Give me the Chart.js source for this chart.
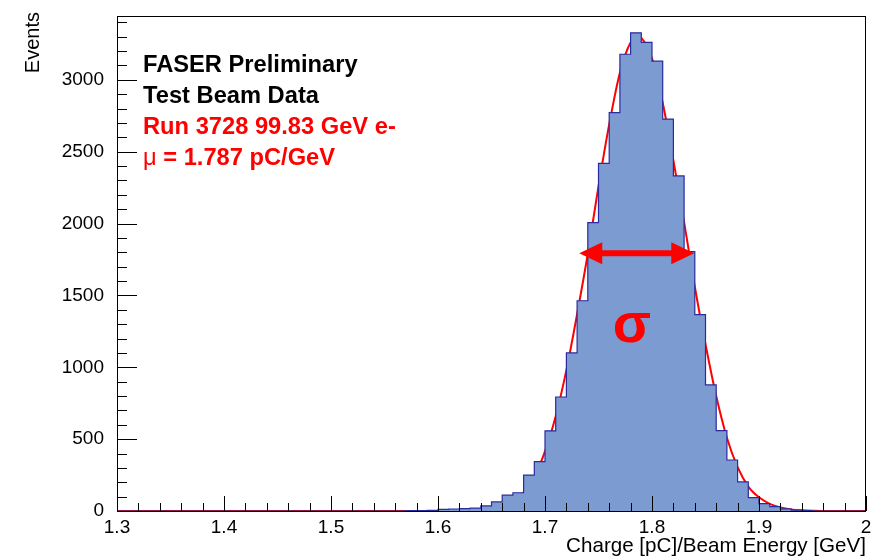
<!DOCTYPE html>
<html>
<head>
<meta charset="utf-8">
<script src="https://cdn.jsdelivr.net/npm/chart.js@4.4.1/dist/chart.umd.min.js"></script>
<style>
  body { margin: 0; background: #fff; }
  canvas { display: block; }
</style>
</head>
<body>
<canvas id="chargeChart" width="875" height="558"></canvas>
<script>
// Histogram: 0.01 wide bins, first filled bin starts at 1.57
const binStart = 1.57;
const binWidth = 0.01;
const binCounts = [
    2, 3, 5, 12, 14, 16, 20, 35, 63, 110,
    127, 250, 343, 558, 793, 1100, 1463, 2007, 2418, 2772,
    3178, 3327, 3260, 3130, 2727, 2331, 1805, 1366, 877, 559,
    355, 202, 93, 52, 30, 15, 6, 2
];

// Fit curve sampled along the axis
const fitX = [1.3, 1.55, 1.60, 1.61, 1.62, 1.63, 1.64, 1.65, 1.66, 1.67, 1.68, 1.69, 1.70,
    1.71, 1.72, 1.73, 1.74, 1.75, 1.76, 1.77, 1.78, 1.787, 1.79, 1.80, 1.81, 1.82,
    1.83, 1.84, 1.85, 1.86, 1.87, 1.88, 1.89, 1.90, 1.91, 1.92, 1.93, 1.94, 1.95, 1.97, 2.0];
const fitY = [0, 0, 0.5, 1, 2, 4, 9, 18, 36, 70, 130, 240, 415,
    660, 980, 1370, 1790, 2260, 2690, 3050, 3260, 3300, 3292, 3150, 2840, 2440,
    2010, 1560, 1160, 800, 510, 305, 170, 95, 50, 25, 11, 5, 2, 0, 0];

const xMajorTicks = [1.3, 1.4, 1.5, 1.6, 1.7, 1.8, 1.9, 2.0];
const yMajorTicks = [0, 500, 1000, 1500, 2000, 2500, 3000];

const fontFamily = '"Liberation Sans", Arial, Helvetica, sans-serif';

function isMajor(v, list) {
    return list.some(m => Math.abs(m - v) < 1e-6);
}

const histPoints = [{ x: 1.3, y: 0 }];
binCounts.forEach((n, i) => {
    histPoints.push({ x: +(binStart + i * binWidth).toFixed(2), y: n });
});
histPoints.push({ x: +(binStart + binCounts.length * binWidth).toFixed(2), y: 0 });
histPoints.push({ x: 2.0, y: 0 });

const fitPoints = fitX.map((x, i) => ({ x: x, y: fitY[i] }));

// fixed axis boxes so the frame sits where ROOT puts it
function fixBox(w, h) {
    return scale => {
        if (w) scale.width = w;
        if (h) scale.height = h;
        scale.paddingTop = 0;
        scale.paddingBottom = 0;
        scale.paddingLeft = 0;
        scale.paddingRight = 0;
    };
}

// ROOT-style frame with inward ticks
const frameTicks = {
    id: 'frameTicks',
    afterDatasetsDraw(chart) {
        const { ctx, chartArea: a, scales: { x, y } } = chart;
        ctx.save();
        ctx.strokeStyle = '#000';
        ctx.lineWidth = 1;
        ctx.beginPath();
        x.ticks.forEach(t => {
            const px = Math.round(x.getPixelForValue(t.value)) + 0.5;
            const len = isMajor(t.value, xMajorTicks) ? 15 : 8;
            ctx.moveTo(px, a.bottom);
            ctx.lineTo(px, a.bottom - len);
        });
        y.ticks.forEach(t => {
            const py = Math.round(y.getPixelForValue(t.value)) + 0.5;
            const len = isMajor(t.value, yMajorTicks) ? 20 : 10;
            ctx.moveTo(a.left, py);
            ctx.lineTo(a.left + len, py);
        });
        ctx.stroke();
        ctx.strokeRect(a.left + 0.5, a.top + 0.5, a.right - a.left - 1, a.bottom - a.top);
        ctx.restore();
    }
};

// Labels, sigma arrow and axis titles
const annotations = {
    id: 'annotations',
    afterDraw(chart) {
        const { ctx, chartArea: a, scales: { x, y } } = chart;
        ctx.save();

        ctx.textBaseline = 'alphabetic';
        ctx.textAlign = 'left';
        ctx.font = 'bold 23.7px ' + fontFamily;
        ctx.fillStyle = '#000';
        ctx.fillText('FASER Preliminary', 143, 72);
        ctx.fillText('Test Beam Data', 143, 103);
        ctx.fillStyle = '#ff0000';
        ctx.fillText('Run 3728 99.83 GeV e-', 143, 134);
        ctx.font = '23.7px ' + fontFamily;
        ctx.fillText('\u03bc', 143, 165);
        const muW = ctx.measureText('\u03bc').width;
        ctx.font = 'bold 23.7px ' + fontFamily;
        ctx.fillText(' = 1.787 pC/GeV', 143 + muW, 165);

        // double arrow across the peak width
        const x1 = x.getPixelForValue(1.732);
        const x2 = x.getPixelForValue(1.8395);
        const ya = y.getPixelForValue(1793);
        const head = 23, half = 11;
        ctx.strokeStyle = '#ff0000';
        ctx.lineWidth = 6;
        ctx.beginPath();
        ctx.moveTo(x1 + head - 2, ya);
        ctx.lineTo(x2 - head + 2, ya);
        ctx.stroke();
        ctx.beginPath();
        ctx.moveTo(x1, ya);
        ctx.lineTo(x1 + head, ya - half);
        ctx.lineTo(x1 + head, ya + half);
        ctx.closePath();
        ctx.moveTo(x2, ya);
        ctx.lineTo(x2 - head, ya - half);
        ctx.lineTo(x2 - head, ya + half);
        ctx.closePath();
        ctx.fill();

        ctx.font = 'bold 56px ' + fontFamily;
        ctx.textAlign = 'center';
        ctx.fillText('\u03c3', x.getPixelForValue(1.7813), y.getPixelForValue(1176));

        // axis titles, aligned to the axis ends
        ctx.fillStyle = '#000';
        ctx.font = '20.6px ' + fontFamily;
        ctx.textAlign = 'right';
        ctx.fillText('Charge [pC]/Beam Energy [GeV]', a.right, 552);
        ctx.font = '20px ' + fontFamily;
        ctx.translate(33, a.top - 4);
        ctx.rotate(-Math.PI / 2);
        ctx.textBaseline = 'middle';
        ctx.fillText('Events', 0, 0);

        ctx.restore();
    }
};

Chart.defaults.font.family = fontFamily;
Chart.defaults.font.size = 19;
Chart.defaults.color = '#000';

new Chart(document.getElementById('chargeChart').getContext('2d'), {
    type: 'line',
    data: {
        datasets: [{
            label: 'Events',
            data: histPoints,
            stepped: true,
            fill: 'origin',
            backgroundColor: '#7b9bd1',
            borderColor: '#2b2ba0',
            borderWidth: 1.2,
            pointRadius: 0
        }, {
            label: 'Fit',
            data: fitPoints,
            fill: false,
            borderColor: '#ff0000',
            borderWidth: 2,
            cubicInterpolationMode: 'monotone',
            pointRadius: 0
        }]
    },
    options: {
        responsive: false,
        animation: false,
        devicePixelRatio: 1,
        layout: { padding: { top: 16, right: 9, left: 0, bottom: 0 } },
        plugins: { legend: { display: false }, tooltip: { enabled: false } },
        scales: {
            x: {
                type: 'linear',
                min: 1.3,
                max: 2.0,
                grid: { display: false, drawTicks: false },
                border: { display: false },
                ticks: {
                    stepSize: 0.02,
                    autoSkip: false,
                    maxRotation: 0,
                    padding: 5,
                    callback: v => isMajor(v, xMajorTicks) ? String(Math.round(v * 10) / 10) : ''
                },
                afterFit: fixBox(0, 47)
            },
            y: {
                min: 0,
                max: 3444,
                grid: { display: false, drawTicks: false },
                border: { display: false },
                ticks: {
                    stepSize: 100,
                    includeBounds: false,
                    autoSkip: false,
                    padding: 13,
                    callback: v => isMajor(v, yMajorTicks) ? String(v) : ''
                },
                afterFit: fixBox(117, 0)
            }
        }
    },
    plugins: [frameTicks, annotations]
});
</script>
</body>
</html>
